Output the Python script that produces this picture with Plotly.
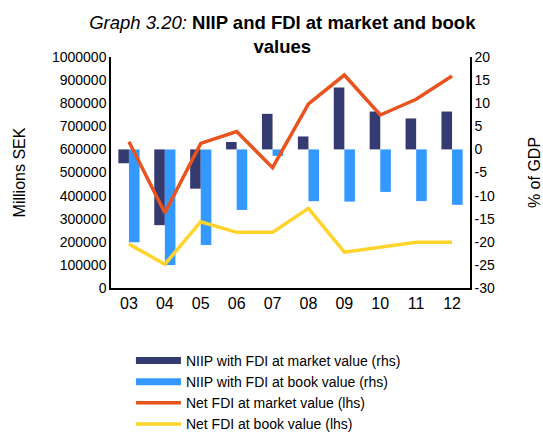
import plotly.graph_objects as go

years = ["03", "04", "05", "06", "07", "08", "09", "10", "11", "12"]
niip_market = [-3.0, -16.4, -8.5, 1.6, 7.7, 2.8, 13.4, 8.2, 6.7, 8.2]
niip_book = [-20.1, -25.0, -20.7, -13.1, -1.4, -11.2, -11.3, -9.2, -11.2, -12.0]
fdi_market = [633000, 326000, 626000, 677000, 521000, 797000, 922000, 749000, 817000, 918000]
fdi_book = [190000, 103000, 287000, 241000, 241000, 345000, 155000, 176000, 198000, 198000]
rhs_ticks = [20, 15, 10, 5, 0, -5, -10, -15, -20, -25, -30]
rhs_labels = ["20", "15", "10", "5", "0", "-5", "-10", "-15", "-20", "-25", "-30"]

names = ["NIIP with FDI at market value (rhs)", "NIIP with FDI at book value (rhs)",
         "Net FDI at market value (lhs)", "Net FDI at book value (lhs)"]
c_dark = "#353B70"
c_light = "#3399FF"
c_orange = "#E8531E"
c_yellow = "#FFD42A"
FONT = "Liberation Sans, Arial, sans-serif"

fig = go.Figure()
fig.add_bar(x=years, y=niip_market, marker_color=c_dark, marker_line_width=0,
            yaxis="y", showlegend=False, name=names[0])
fig.add_bar(x=years, y=niip_book, marker_color=c_light, marker_line_width=0,
            yaxis="y", showlegend=False, name=names[1])
fig.add_scatter(x=years, y=fdi_market, mode="lines", line=dict(color=c_orange, width=3.5),
                yaxis="y2", showlegend=False, name=names[2])
fig.add_scatter(x=years, y=fdi_book, mode="lines", line=dict(color=c_yellow, width=3.5),
                yaxis="y2", showlegend=False, name=names[3])

# legend entries
for nm, col, w in zip(names, [c_dark, c_light, c_orange, c_yellow], [7, 7, 3.5, 3.5]):
    fig.add_scatter(x=[None], y=[None], mode="lines", line=dict(color=col, width=w),
                    name=nm, yaxis="y2", showlegend=True)

fig.update_layout(
    width=543, height=432,
    margin=dict(l=111, r=73, t=57, b=144, autoexpand=False),
    paper_bgcolor="white", plot_bgcolor="white",
    font=dict(family=FONT, size=14, color="black"),
    barmode="group", bargap=0.41, bargroupgap=0,
    title=dict(text="<i>Graph 3.20:</i> <b>NIIP and FDI at market and book<br>values</b>",
               x=0.52, xref="container", xanchor="center",
               y=0.933, yref="container", yanchor="top",
               font=dict(size=18.5, family=FONT, color="black")),
    xaxis=dict(type="category", showline=True, linecolor="black", linewidth=1.5,
               ticks="", showgrid=False, tickfont=dict(size=16), zeroline=False),
    yaxis=dict(side="right", range=[-30, 20], tickmode="array", tickvals=rhs_ticks,
               ticktext=rhs_labels, showline=True,
               linecolor="black", linewidth=1.5, ticks="", showgrid=False, zeroline=False,
               title=dict(text="% of GDP", font=dict(size=16), standoff=37),
               tickfont=dict(size=14)),
    yaxis2=dict(side="left", overlaying="y", range=[0, 1000000], dtick=100000,
                tickformat="d", showline=True, linecolor="black", linewidth=1.5,
                ticks="", showgrid=False, zeroline=False,
                title=dict(text="Millions SEK", font=dict(size=16), standoff=22),
                tickfont=dict(size=14)),
    legend=dict(x=0.0555, xanchor="left", y=-0.246, yanchor="top",
                font=dict(size=14), itemwidth=45, tracegroupgap=0,
                bgcolor="rgba(0,0,0,0)"),
)

fig.write_html("out.html", config={"displayModeBar": False},
               post_script="document.body.style.margin='0';")
